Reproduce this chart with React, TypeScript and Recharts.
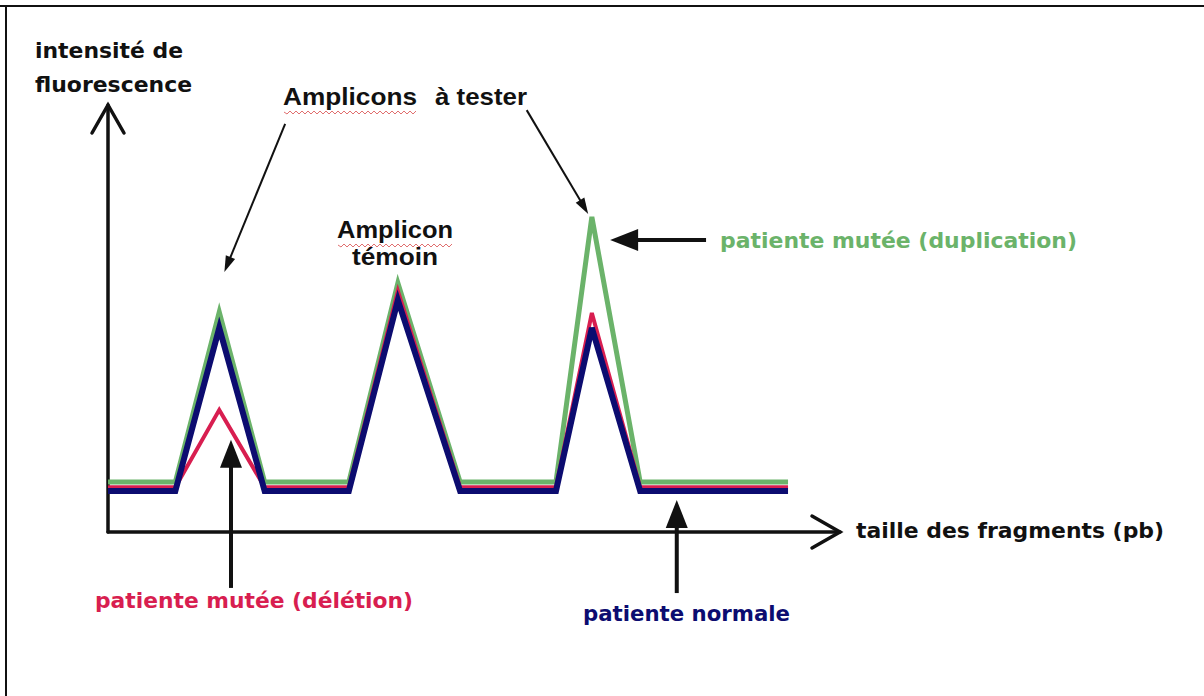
import { Line, LineChart, ReferenceLine, XAxis, YAxis } from "recharts"

// taille des fragments (unités arbitraires) et intensité pour chaque patiente
const tailles = [0, 9.2, 15.2, 21.4, 32.9, 39.6, 48.1, 61.2, 66.1, 72.7, 92.9]
const normale = [9.6, 9.6, 47.8, 9.6, 9.6, 54.3, 9.6, 9.6, 47.8, 9.6, 9.6]
const deletion = [10.5, 10.5, 28.6, 10.5, 10.5, 56.4, 10.5, 10.5, 51.3, 10.5, 10.5]
const duplication = [11.7, 11.7, 51.5, 11.7, 11.7, 58.3, 11.7, 11.7, 73.8, 11.7, 11.7]

const data = tailles.map((taille, i) => ({
  taille,
  normale: normale[i],
  deletion: deletion[i],
  duplication: duplication[i],
}))

const VERT = "#6bb36a"
const ROUGE = "#d81e50"
const BLEU = "#0c0c70"
const NOIR = "#111"

const COMIC = "'DejaVu Sans', sans-serif"
const ARIAL = "'Liberation Sans', Arial, sans-serif"

// flèches d'annotation (en coordonnées du graphique)
const flechesEpaisses = [
  { de: { x: 16.8, y: -13.1 }, vers: { x: 16.8, y: 21.6 } },
  { de: { x: 77.7, y: -14.3 }, vers: { x: 77.7, y: 7.5 } },
  { de: { x: 81.7, y: 68.4 }, vers: { x: 68.6, y: 68.4 } },
]
const flechesFines = [
  { de: { x: 24.2, y: 95.6 }, vers: { x: 15.9, y: 60.9 } },
  { de: { x: 57.2, y: 98.8 }, vers: { x: 65.6, y: 74.5 } },
]

function fleche(epaisseur: number, longueur: number, largeur: number) {
  return (props: any) => {
    const { x1, y1, x2, y2 } = props
    if ([x1, y1, x2, y2].some((v) => typeof v !== "number" || isNaN(v))) return <g />
    const dx = x2 - x1
    const dy = y2 - y1
    const len = Math.hypot(dx, dy) || 1
    const ux = dx / len
    const uy = dy / len
    const bx = x2 - ux * longueur
    const by = y2 - uy * longueur
    const px = (-uy * largeur) / 2
    const py = (ux * largeur) / 2
    return (
      <g>
        <line x1={x1} y1={y1} x2={bx + ux * 2} y2={by + uy * 2} stroke={NOIR} strokeWidth={epaisseur} />
        <polygon points={`${x2},${y2} ${bx + px},${by + py} ${bx - px},${by - py}`} fill={NOIR} />
      </g>
    )
  }
}

function axe(props: any) {
  const { x1, y1, x2, y2 } = props
  if ([x1, y1, x2, y2].some((v) => typeof v !== "number" || isNaN(v))) return <g />
  const dx = x2 - x1
  const dy = y2 - y1
  const len = Math.hypot(dx, dy) || 1
  const ux = dx / len
  const uy = dy / len
  const bx = x2 - ux * 28
  const by = y2 - uy * 28
  const px = -uy * 16
  const py = ux * 16
  return (
    <g stroke={NOIR} strokeWidth={3.5} fill="none" strokeLinecap="round">
      <line x1={x1} y1={y1} x2={x2} y2={y2} />
      <polyline points={`${bx + px},${by + py} ${x2},${y2} ${bx - px},${by - py}`} />
    </g>
  )
}

function vague(x0: number, x1: number, y: number) {
  let d = `M${x0},${y}`
  for (let x = x0 + 3, k = 1; x <= x1; x += 3, k++) d += ` L${x},${y + (k % 2 ? 2 : -1)}`
  return <path d={d} stroke="#e07070" strokeWidth={1} fill="none" />
}

export default function App() {
  return (
    <div style={{ position: "absolute", left: 0, top: 0, width: 1204, height: 696, background: "#fff" }}>
      <LineChart
        width={1204}
        height={696}
        data={data}
        margin={{ top: 105, right: 364, bottom: 164, left: 108 }}
      >
        <XAxis type="number" dataKey="taille" domain={[0, 100]} hide />
        <YAxis type="number" domain={[0, 100]} hide />
        <ReferenceLine segment={[{ x: 0, y: 0 }, { x: 100, y: 0 }]} ifOverflow="visible" shape={axe} />
        <ReferenceLine segment={[{ x: 0, y: 0 }, { x: 0, y: 100 }]} ifOverflow="visible" shape={axe} />
        <Line type="linear" dataKey="duplication" stroke={VERT} strokeWidth={5} dot={false} isAnimationActive={false} />
        <Line type="linear" dataKey="deletion" stroke={ROUGE} strokeWidth={4} dot={false} isAnimationActive={false} />
        <Line type="linear" dataKey="normale" stroke={BLEU} strokeWidth={6} dot={false} isAnimationActive={false} />
        {flechesEpaisses.map((f, i) => (
          <ReferenceLine key={`e${i}`} segment={[f.de, f.vers]} ifOverflow="visible" shape={fleche(4, 28, 22)} />
        ))}
        {flechesFines.map((f, i) => (
          <ReferenceLine key={`f${i}`} segment={[f.de, f.vers]} ifOverflow="visible" shape={fleche(2, 16, 10)} />
        ))}
      </LineChart>
      <svg
        width={1204}
        height={696}
        style={{ position: "absolute", left: 0, top: 0, pointerEvents: "none" }}
      >
        <line x1={0} y1={6} x2={1204} y2={6} stroke={NOIR} strokeWidth={2} />
        <line x1={6} y1={6} x2={6} y2={696} stroke={NOIR} strokeWidth={2} />
        <g fontFamily={COMIC} fontWeight="bold" fontSize={21}>
          <text x={35} y={58} fill={NOIR} textLength={148} lengthAdjust="spacingAndGlyphs">intensité de</text>
          <text x={35} y={92} fill={NOIR} textLength={157} lengthAdjust="spacingAndGlyphs">fluorescence</text>
          <text x={856} y={538} fill={NOIR} textLength={308} lengthAdjust="spacingAndGlyphs">taille des fragments (pb)</text>
          <text x={720} y={248} fill={VERT} textLength={357} lengthAdjust="spacingAndGlyphs">patiente mutée (duplication)</text>
          <text x={95} y={608} fill={ROUGE} textLength={318} lengthAdjust="spacingAndGlyphs">patiente mutée (délétion)</text>
          <text x={583} y={621} fill={BLEU} textLength={207} lengthAdjust="spacingAndGlyphs">patiente normale</text>
        </g>
        <g fontFamily={ARIAL} fontWeight="bold" fontSize={24} fill={NOIR}>
          <text x={283} y={105} textLength={134} lengthAdjust="spacingAndGlyphs">Amplicons</text>
          <text x={435} y={105} textLength={92} lengthAdjust="spacingAndGlyphs">à tester</text>
          <text x={337} y={238} textLength={116} lengthAdjust="spacingAndGlyphs">Amplicon</text>
          <text x={352} y={265} textLength={86} lengthAdjust="spacingAndGlyphs">témoin</text>
        </g>
        {vague(284, 416, 112)}
        {vague(338, 452, 245)}
      </svg>
    </div>
  )
}
